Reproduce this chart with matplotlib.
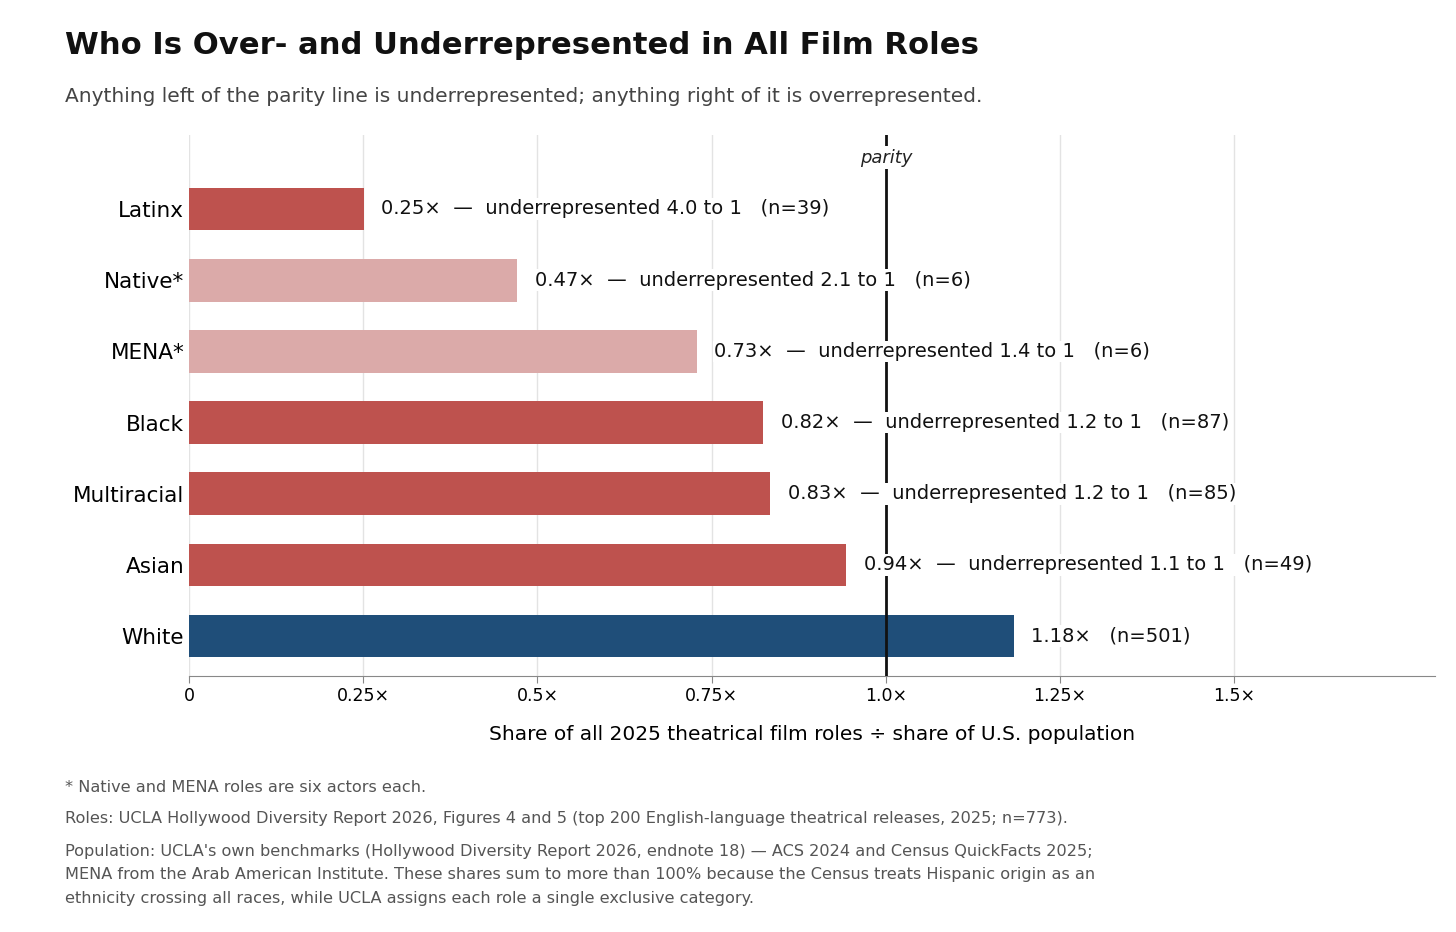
import matplotlib.pyplot as plt

groups = ['Latinx', 'Native*', 'MENA*', 'Black', 'Multiracial', 'Asian', 'White']
ratios = [0.251, 0.471, 0.729, 0.824, 0.834, 0.943, 1.184]
counts = [39, 6, 6, 87, 85, 49, 501]
small_sample = [False, True, True, False, False, False, False]

tick_vals = [0, 0.25, 0.5, 0.75, 1.0, 1.25, 1.5]
tick_text = ['0', '0.25×', '0.5×', '0.75×', '1.0×', '1.25×', '1.5×']

footnotes = [
    '* Native and MENA roles are six actors each.',
    'Roles: UCLA Hollywood Diversity Report 2026, Figures 4 and 5 (top 200 English-language theatrical releases, 2025; n=773).',
    "Population: UCLA's own benchmarks (Hollywood Diversity Report 2026, endnote 18) — ACS 2024 and Census QuickFacts 2025;\n"
    'MENA from the Arab American Institute. These shares sum to more than 100% because the Census treats Hispanic origin as an\n'
    'ethnicity crossing all races, while UCLA assigns each role a single exclusive category.',
]

RED = '#be524e'
PINK = '#dbaaa9'
BLUE = '#1f4e79'

fig = plt.figure(figsize=(14.56, 9.32), dpi=100)
ax = fig.add_axes([0.1298, 0.2747, 0.8558, 0.5805])

ypos = list(range(len(groups)))[::-1]
colors = []
for g, r, s in zip(groups, ratios, small_sample):
    if r > 1:
        colors.append(BLUE)
    elif s:
        colors.append(PINK)
    else:
        colors.append(RED)

ax.barh(ypos, ratios, height=0.6, color=colors, zorder=2)

ax.axvline(1.0, color='#111111', lw=2, zorder=3)
ax.text(1.0, 6.72, 'parity', ha='center', va='center', fontsize=13, style='italic',
        color='#222222', zorder=4,
        bbox=dict(facecolor='white', edgecolor='none', pad=2))

for y, r, n in zip(ypos, ratios, counts):
    if r < 1:
        label = f'{r:.2f}×  —  underrepresented {1 / r:.1f} to 1   (n={n})'
    else:
        label = f'{r:.2f}×   (n={n})'
    ax.annotate(label, (r, y), xytext=(12.5, 0), textcoords='offset points',
                ha='left', va='center', fontsize=14, color='#111111', zorder=4,
                bbox=dict(facecolor='white', edgecolor='none', pad=1))

ax.set_xlim(0, 1.788)
ax.set_ylim(-0.56, 7.04)
ax.set_yticks(ypos)
ax.set_yticklabels(groups, fontsize=15.5)
ax.tick_params(axis='y', length=0, pad=3.5)
ax.set_xticks(tick_vals)
ax.set_xticklabels(tick_text, fontsize=12.5)
ax.tick_params(axis='x', length=5, color='#888888', pad=3)
ax.grid(axis='x', color='#e3e3e3', lw=1, zorder=0)
ax.set_axisbelow(True)

for side in ['top', 'right', 'left']:
    ax.spines[side].set_visible(False)
ax.spines['bottom'].set_color('#888888')

ax.set_xlabel('Share of all 2025 theatrical film roles ÷ share of U.S. population',
              fontsize=14.5, labelpad=14)

fig.text(0.0446, 1 - 46 / 932, 'Who Is Over- and Underrepresented in All Film Roles',
         fontsize=22.1, fontweight='bold', color='#111111', va='center')
fig.text(0.0446, 1 - 96 / 932, 'Anything left of the parity line is underrepresented; anything right of it is overrepresented.',
         fontsize=14.5, color='#444444', va='center')

fig.text(0.0446, 1 - 787 / 932, footnotes[0], fontsize=11.6, color='#555555', va='center')
fig.text(0.0446, 1 - 819 / 932, footnotes[1], fontsize=11.6, color='#555555', va='center')
fig.text(0.0446, 1 - 844 / 932, footnotes[2], fontsize=11.6, color='#555555', va='top',
         linespacing=1.7)

fig.savefig('out.png', dpi=100)
